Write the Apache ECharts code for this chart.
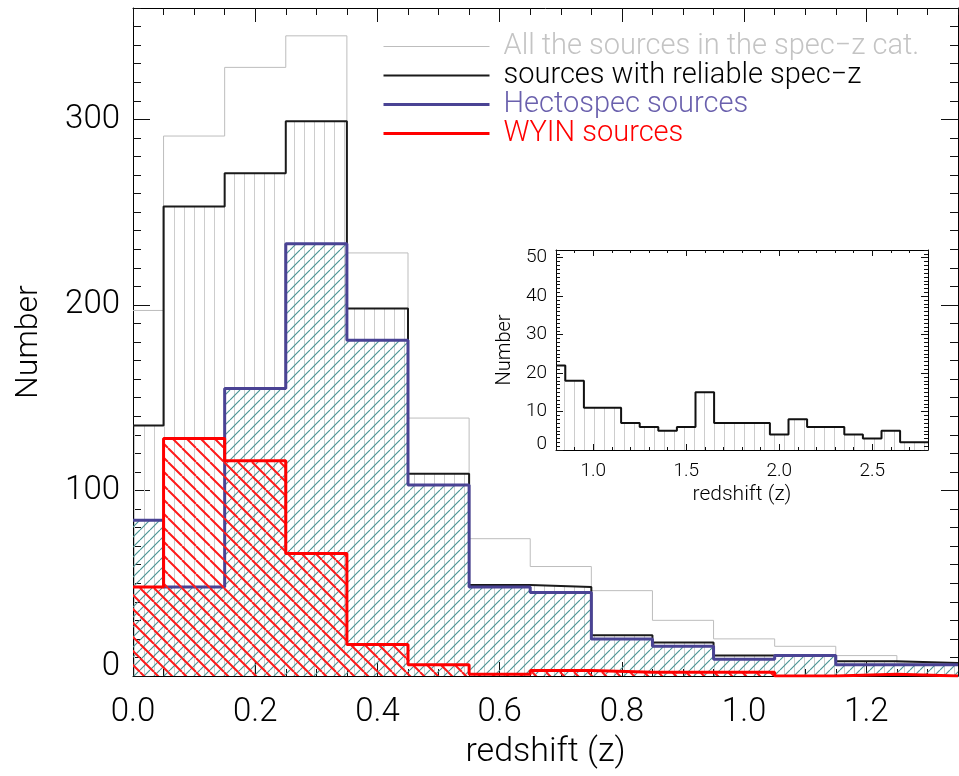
<!DOCTYPE html>
<html>
<head>
<meta charset="utf-8">
<script src="https://cdn.jsdelivr.net/npm/echarts@6/dist/echarts.min.js"></script>
<style>
  html, body { margin: 0; padding: 0; background: #fff; }
  #chart { width: 959px; height: 776px; }
</style>
</head>
<body>
<div id="chart"></div>
<script>
// Redshift histograms, bins 0.1 wide centred on these values
const zBins = [0.0, 0.1, 0.2, 0.3, 0.4, 0.5, 0.6, 0.7, 0.8, 0.9, 1.0, 1.1, 1.2, 1.3];
const allSources       = [197, 291, 328, 345, 228, 139, 74, 59, 46, 30, 20, 16, 11, 7];
const reliableSources  = [135, 253, 271, 299, 198, 109, 49, 48, 22, 18, 11, 11, 8, 7];
const hectospecSources = [84, 48, 155, 233, 181, 103, 48, 45, 20, 16, 9, 11, 6, 6];
const wyinSources      = [48, 128, 116, 66, 17, 6, 1, 3, 2, 2, 2, 0, 1, 0];

// High-redshift tail (inset), same bin width
const highZBins = [0.8, 0.9, 1.0, 1.1, 1.2, 1.3, 1.4, 1.5, 1.6, 1.7, 1.8, 1.9, 2.0,
                   2.1, 2.2, 2.3, 2.4, 2.5, 2.6, 2.7, 2.8];
const highZReliable = [22, 18, 11, 11, 7, 6, 5, 6, 15, 7, 7, 7, 4, 8, 6, 6, 4, 3, 5, 2, 2];

// Labelled tick positions
const mainXTicks = [0.0, 0.2, 0.4, 0.6, 0.8, 1.0, 1.2];
const mainYTicks = [0, 100, 200, 300];
const insetXTicks = [1.0, 1.5, 2.0, 2.5];
const insetYTicks = [0, 10, 20, 30, 40, 50];

const legendNames = [
  'All the sources in the spec\u2212z cat.',
  'sources with reliable spec\u2212z',
  'Hectospec sources',
  'WYIN sources'
];

const BIN_WIDTH = 0.1;
const FONT = 'Roboto';

// Step outline: one point at each bin's left edge plus the final right edge,
// clipped to the axis range.
function stepPoints(centers, values, lo, hi) {
  const r = v => Math.round(v * 1e6) / 1e6;
  const pts = centers.map((c, i) => [r(Math.max(c - BIN_WIDTH / 2, lo)), values[i]]);
  const last = centers.length - 1;
  pts.push([r(Math.min(centers[last] + BIN_WIDTH / 2, hi)), values[last]]);
  return pts;
}

// Hatch tiles used as repeating fill patterns
function hatchTile(size, color, lineWidth, kind, offset) {
  const c = document.createElement('canvas');
  c.width = size; c.height = size;
  const g = c.getContext('2d');
  g.strokeStyle = color;
  g.lineWidth = lineWidth;
  g.beginPath();
  if (kind === 'vertical') {
    g.moveTo(offset + 0.5, 0); g.lineTo(offset + 0.5, size);
  } else if (kind === 'up') {
    for (const d of [-size, 0, size]) { g.moveTo(d, size); g.lineTo(d + size, 0); }
  } else {
    for (const d of [-size, 0, size]) { g.moveTo(d, 0); g.lineTo(d + size, size); }
  }
  g.stroke();
  return { image: c, repeat: 'repeat' };
}

const verticalFill = hatchTile(10, '#cdcdcd', 1, 'vertical', 4);
const tealFill = hatchTile(10, '#4a9495', 1.15, 'up', 0);
const redFill = hatchTile(14, '#ff1a1a', 2, 'down', 0);

// A major axis (line, long ticks, optional labels) and a minor-tick axis
function axisPair(gridIndex, position, min, max, majorTicks, minorInterval,
                  majorLen, minorLen, labels, z) {
  const common = { gridIndex, position, type: 'value', min, max, z,
                   splitLine: { show: false } };
  const major = Object.assign({}, common, {
    axisLine: { show: true, onZero: false, lineStyle: { color: '#000', width: 1 } },
    axisTick: { show: true, inside: true, length: majorLen, customValues: majorTicks,
                lineStyle: { color: '#111', width: 1 } },
    axisLabel: labels ? Object.assign({ customValues: majorTicks }, labels) : { show: false }
  });
  const minor = Object.assign({}, common, {
    interval: minorInterval,
    axisLine: { show: false, onZero: false },
    axisTick: { show: true, inside: true, length: minorLen, lineStyle: { color: '#111', width: 1 } },
    axisLabel: { show: false }
  });
  return [major, minor];
}

const mainLabel = { color: '#000', fontFamily: FONT, fontWeight: 300, fontSize: 33 };
const insetLabel = { color: '#000', fontFamily: FONT, fontWeight: 300, fontSize: 19 };

const xMainBottom = axisPair(0, 'bottom', 0, 1.35, mainXTicks, 0.05, 14, 7,
  Object.assign({ margin: 20, formatter: v => v.toFixed(1) }, mainLabel), 0);
Object.assign(xMainBottom[0], {
  name: 'redshift (z)', nameLocation: 'middle', nameGap: 59,
  nameTextStyle: Object.assign({}, mainLabel, { fontSize: 34 })
});
const xMainTop = axisPair(0, 'top', 0, 1.35, mainXTicks, 0.05, 14, 7, null, 0);

const yMainLeft = axisPair(0, 'left', 0, 360, mainYTicks, 10, 17, 8,
  Object.assign({
    margin: 13,
    formatter: v => (v === 0 ? '{lo|0}' : String(v)),
    rich: { lo: { padding: [0, 0, 18, 0] } }
  }, mainLabel), 0);
Object.assign(yMainLeft[0], {
  name: 'Number', nameLocation: 'middle', nameGap: 88,
  nameTextStyle: Object.assign({}, mainLabel, { fontSize: 32 })
});
const yMainRight = axisPair(0, 'right', 0, 360, mainYTicks, 10, 17, 8, null, 0);

const xInsetBottom = axisPair(1, 'bottom', 0.8, 2.8, insetXTicks, 0.1, 6, 3,
  Object.assign({ margin: 12, formatter: v => v.toFixed(1) }, insetLabel), 10);
Object.assign(xInsetBottom[0], {
  name: 'redshift (z)', nameLocation: 'middle', nameGap: 34,
  nameTextStyle: Object.assign({}, insetLabel, { fontSize: 21 })
});
const xInsetTop = axisPair(1, 'top', 0.8, 2.8, insetXTicks, 0.1, 6, 3, null, 10);

const yInsetLeft = axisPair(1, 'left', 0, 52, insetYTicks, 1, 7, 4,
  Object.assign({
    margin: 9,
    formatter: v => (v === 0 ? '{lo|0}' : String(v)),
    rich: { lo: { padding: [0, 0, 12, 0] } }
  }, insetLabel), 10);
Object.assign(yInsetLeft[0], {
  name: 'Number', nameLocation: 'middle', nameGap: 41,
  nameTextStyle: Object.assign({}, insetLabel, { fontSize: 20 })
});
const yInsetRight = axisPair(1, 'right', 0, 52, insetYTicks, 1, 7, 4, null, 10);

function histSeries(name, values, color, width, fill, z) {
  const s = {
    name, type: 'line', step: 'end', symbol: 'none', silent: true,
    xAxisIndex: 0, yAxisIndex: 0, z,
    data: stepPoints(zBins, values, 0, 1.35),
    lineStyle: { color, width },
    itemStyle: { color }
  };
  if (fill) s.areaStyle = { color: fill, opacity: 1 };
  return s;
}

const seriesColors = ['#bdbdbd', '#1a1a1a', '#4a4394', '#ff0000'];
const seriesWidths = [1, 2, 3, 3];
const legendTextColors = ['#c4c4c4', '#000', '#6a60ad', '#ff0000'];

const option = {
  animation: false,
  backgroundColor: '#fff',
  grid: [
    { left: 133, top: 8, right: 1, bottom: 100, containLabel: false },
    { left: 556, top: 250, width: 372, height: 200, containLabel: false,
      show: true, backgroundColor: '#fff', borderWidth: 0, z: 5 }
  ],
  xAxis: [...xMainBottom, ...xMainTop, ...xInsetBottom, ...xInsetTop],
  yAxis: [...yMainLeft, ...yMainRight, ...yInsetLeft, ...yInsetRight],
  legend: {
    orient: 'vertical', left: 377, top: 27, padding: 5,
    itemWidth: 106, itemHeight: 28, itemGap: 0,
    selectedMode: false,
    itemStyle: { opacity: 0 },
    textStyle: { fontFamily: FONT, fontWeight: 300, fontSize: 29, lineHeight: 28,
                 padding: [0, 0, 0, 9] },
    data: legendNames.map((name, i) => ({
      name,
      itemStyle: { opacity: 0 },
      lineStyle: { color: seriesColors[i], width: seriesWidths[i] },
      textStyle: { color: legendTextColors[i] }
    }))
  },
  series: [
    histSeries(legendNames[0], allSources, seriesColors[0], seriesWidths[0], null, 2),
    histSeries(legendNames[1], reliableSources, seriesColors[1], seriesWidths[1], verticalFill, 3),
    histSeries(legendNames[2], hectospecSources, seriesColors[2], seriesWidths[2], tealFill, 4),
    histSeries(legendNames[3], wyinSources, seriesColors[3], seriesWidths[3], redFill, 5),
    {
      name: 'high-z reliable', type: 'line', step: 'end', symbol: 'none', silent: true,
      xAxisIndex: 4, yAxisIndex: 4, z: 6,
      data: stepPoints(highZBins, highZReliable, 0.8, 2.8),
      lineStyle: { color: '#111', width: 2 },
      itemStyle: { color: '#111' },
      areaStyle: { color: verticalFill, opacity: 1 }
    }
  ]
};

const chart = echarts.init(document.getElementById('chart'), null, { renderer: 'canvas' });
chart.setOption(option);
</script>
</body>
</html>
